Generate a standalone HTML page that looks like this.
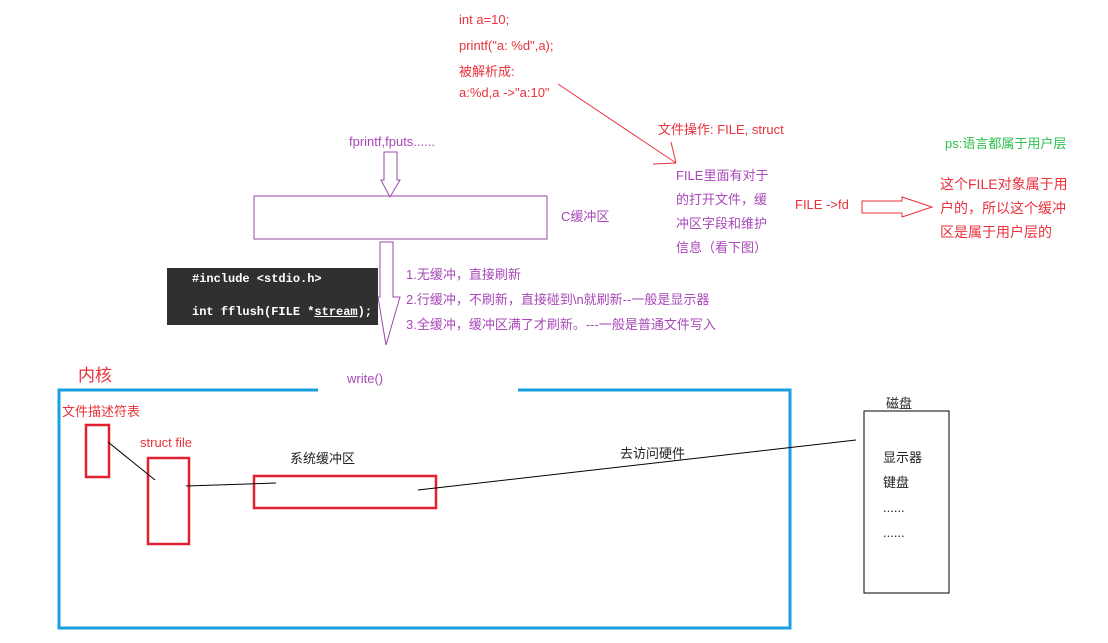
<!DOCTYPE html>
<html><head><meta charset="utf-8"><style>
body{margin:0;width:1108px;height:643px;background:#fff;overflow:hidden;position:relative;font-family:"Liberation Sans","Noto Sans CJK SC",sans-serif;}
.t{position:absolute;white-space:nowrap;font-size:13px;}
.r{color:#e8323c}.p{color:#a848b8}.k{color:#222}
</style></head><body>
<svg width="1108" height="643" style="position:absolute;left:0;top:0">
<rect x="254" y="196" width="293" height="43" fill="none" stroke="#9a4aa8" stroke-width="1"/>
<polygon points="384,152 397,152 397,180 400,180 390,197 381,180 384,180" fill="#fff" stroke="#9a4aa8"/>
<polygon points="380,242 393,242 393,297 400,297 386,345 378,297 380,297" fill="#fff" stroke="#9a4aa8"/>
<rect x="167" y="268" width="211" height="57" fill="#303030"/>
<line x1="558" y1="84" x2="676" y2="163" stroke="#e8323c" stroke-width="1"/>
<line x1="671" y1="142" x2="676" y2="163" stroke="#e8323c"/>
<line x1="653" y1="164" x2="676" y2="163" stroke="#e8323c"/>
<polygon points="862,201 902,201 902,197 932,207 902,217 902,213 862,213" fill="#fff" stroke="#e8323c"/>
<polyline points="318,390 59,390 59,628 790,628 790,390 518,390" fill="none" stroke="#1aa0e0" stroke-width="3"/>
<rect x="86" y="425" width="23" height="52" fill="none" stroke="#e02030" stroke-width="2.5"/>
<rect x="148" y="458" width="41" height="86" fill="none" stroke="#e02030" stroke-width="2.5"/>
<rect x="254" y="476" width="182" height="32" fill="none" stroke="#e02030" stroke-width="2.5"/>
<line x1="108" y1="442" x2="155" y2="480" stroke="#000"/>
<line x1="186" y1="486" x2="276" y2="483" stroke="#000"/>
<line x1="418" y1="490" x2="856" y2="440" stroke="#000"/>
<rect x="864" y="411" width="85" height="182" fill="none" stroke="#000" stroke-width="1"/>
</svg>
<div class="t r" style="left:459px;top:12px">int a=10;</div>
<div class="t r" style="left:459px;top:38px">printf("a: %d",a);</div>
<div class="t r" style="left:459px;top:61px">被解析成:</div>
<div class="t r" style="left:459px;top:85px">a:%d,a ->"a:10"</div>
<div class="t r" style="left:658px;top:119px">文件操作: FILE, struct</div>
<div class="t p" style="left:349px;top:134px">fprintf,fputs......</div>
<div class="t p" style="left:676px;top:164px;line-height:24px">FILE里面有对于<br>的打开文件，缓<br>冲区字段和维护<br>信息（看下图）</div>
<div class="t p" style="left:561px;top:206px">C缓冲区</div>
<div class="t r" style="left:795px;top:197px">FILE ->fd</div>
<div class="t" style="left:945px;top:133px;color:#30c050">ps:语言都属于用户层</div>
<div class="t r" style="left:940px;top:172px;line-height:24px;font-size:14px">这个FILE对象属于用<br>户的，所以这个缓冲<br>区是属于用户层的</div>
<div class="t" style="left:192px;top:272px;color:#fff;font-family:'Liberation Mono',monospace;font-size:12px;font-weight:bold">#include &lt;stdio.h&gt;</div>
<div class="t" style="left:192px;top:305px;color:#fff;font-family:'Liberation Mono',monospace;font-size:12px;font-weight:bold">int fflush(FILE *<u>stream</u>);</div>
<div class="t p" style="left:406px;top:262px;line-height:25px">1.无缓冲，直接刷新<br>2.行缓冲，不刷新，直接碰到\n就刷新--一般是显示器<br>3.全缓冲，缓冲区满了才刷新。---一般是普通文件写入</div>
<div class="t r" style="left:78px;top:361px;font-size:17px">内核</div>
<div class="t p" style="left:347px;top:371px">write()</div>
<div class="t r" style="left:62px;top:401px">文件描述符表</div>
<div class="t r" style="left:140px;top:435px">struct file</div>
<div class="t k" style="left:290px;top:448px">系统缓冲区</div>
<div class="t k" style="left:620px;top:443px">去访问硬件</div>
<div class="t k" style="left:886px;top:393px">磁盘</div>
<div class="t k" style="left:883px;top:445px;line-height:25px">显示器<br>键盘<br>......<br>......</div>
</body></html>
